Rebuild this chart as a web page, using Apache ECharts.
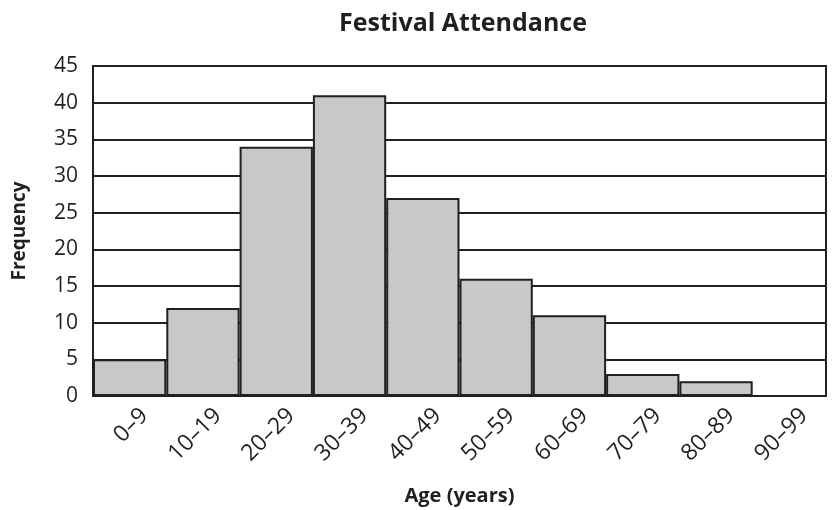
<!DOCTYPE html>
<html>
<head>
<meta charset="utf-8">
<script src="https://cdn.jsdelivr.net/npm/echarts@6/dist/echarts.min.js"></script>
<style>
html,body{margin:0;padding:0;background:#fff;}
#chart{width:833px;height:510px;}
</style>
</head>
<body>
<div id="chart"></div>
<script>
var categories = ['0–9','10–19','20–29','30–39','40–49','50–59','60–69','70–79','80–89','90–99'];
var frequency = [5, 12, 34, 41, 27, 16, 11, 3, 2, 0];
var yTicks = {min: 0, max: 45, interval: 5};

var chart = echarts.init(document.getElementById('chart'));
var fontFam = '"Open Sans", "Noto Sans", sans-serif';
chart.setOption({
  animation: false,
  backgroundColor: '#fff',
  title: {
    text: 'Festival Attendance',
    left: 458, top: 6, textAlign: 'center',
    textStyle: {fontFamily: fontFam, fontSize: 25, fontWeight: 'bold', color: '#231f20'}
  },
  grid: {left: 93, right: 7, top: 66, bottom: 114, show: true, borderColor: '#231f20', borderWidth: 2, backgroundColor: '#fff', containLabel: false, outerBoundsMode: 'none'},
  xAxis: {
    type: 'category',
    data: categories,
    name: 'Age (years)',
    nameLocation: 'middle',
    nameGap: 90,
    nameTextStyle: {fontFamily: fontFam, fontSize: 20, fontWeight: 'bold', color: '#231f20'},
    axisLine: {show: true, lineStyle: {color: '#231f20', width: 2}},
    axisTick: {show: false},
    axisLabel: {rotate: 45, interval: 0, fontFamily: fontFam, fontSize: 23, color: '#231f20', margin: 31, padding: [0, -21, 0, 0]}
  },
  yAxis: {
    type: 'value',
    min: yTicks.min, max: yTicks.max, interval: yTicks.interval,
    name: 'Frequency',
    nameLocation: 'middle',
    nameGap: 64,
    nameTextStyle: {fontFamily: fontFam, fontSize: 19, fontWeight: 'bold', color: '#231f20'},
    axisLine: {show: true, lineStyle: {color: '#231f20', width: 2}},
    axisTick: {show: false},
    axisLabel: {fontFamily: fontFam, fontSize: 21, color: '#231f20', margin: 15},
    splitLine: {show: true, lineStyle: {color: '#231f20', width: 2}}
  },
  series: [{
    type: 'bar',
    data: frequency,
    barCategoryGap: '0%',
    itemStyle: {color: '#c8c8c8', borderColor: '#231f20', borderWidth: 2}
  }]
});
</script>
</body>
</html>
